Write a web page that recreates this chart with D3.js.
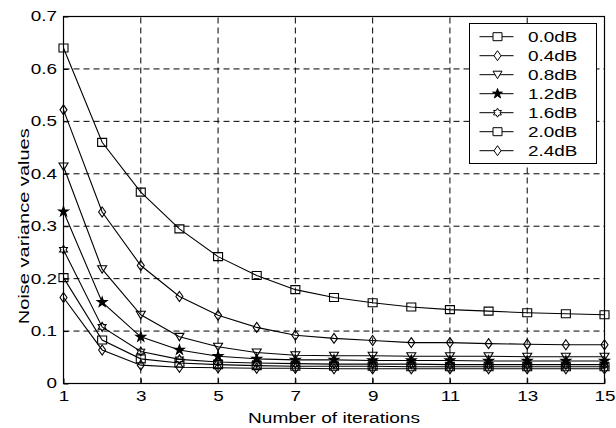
<!DOCTYPE html>
<html>
<head>
<meta charset="utf-8">
<script src="https://cdn.jsdelivr.net/npm/d3@7"></script>
<style>
  body { margin: 0; background: #fff; }
  text { font-family: Arial, "Liberation Sans", sans-serif; fill: #000; }
</style>
</head>
<body>
<script>
// Noise variance vs. number of iterations, one curve per SNR

const iterations = [1, 2, 3, 4, 5, 6, 7, 8, 9, 10, 11, 12, 13, 14, 15];
const snrLabels = ["0.0dB", "0.4dB", "0.8dB", "1.2dB", "1.6dB", "2.0dB", "2.4dB"];
const markers = ["square", "diamond", "triangle", "star", "hexagram", "square", "diamond"];

const snr00 = [0.640, 0.460, 0.365, 0.295, 0.242, 0.206, 0.179, 0.164, 0.154, 0.146, 0.141, 0.138, 0.135, 0.133, 0.131];
const snr04 = [0.522, 0.327, 0.225, 0.166, 0.130, 0.107, 0.092, 0.086, 0.082, 0.078, 0.078, 0.076, 0.075, 0.074, 0.074];
const snr08 = [0.414, 0.218, 0.131, 0.089, 0.070, 0.059, 0.054, 0.053, 0.053, 0.052, 0.052, 0.052, 0.051, 0.051, 0.051];
const snr12 = [0.328, 0.155, 0.089, 0.064, 0.052, 0.047, 0.045, 0.045, 0.044, 0.044, 0.044, 0.043, 0.043, 0.043, 0.043];
const snr16 = [0.255, 0.108, 0.061, 0.046, 0.041, 0.039, 0.038, 0.037, 0.037, 0.037, 0.036, 0.036, 0.036, 0.036, 0.036];
const snr20 = [0.202, 0.083, 0.047, 0.039, 0.036, 0.034, 0.033, 0.033, 0.033, 0.032, 0.032, 0.032, 0.032, 0.032, 0.032];
const snr24 = [0.164, 0.064, 0.035, 0.031, 0.030, 0.029, 0.029, 0.028, 0.028, 0.028, 0.028, 0.028, 0.028, 0.028, 0.028];

const xTicks = [1, 3, 5, 7, 9, 11, 13, 15];
const yTicks = [0, 0.1, 0.2, 0.3, 0.4, 0.5, 0.6, 0.7];

const allSeries = [snr00, snr04, snr08, snr12, snr16, snr20, snr24];

const W = 616, H = 428;
const margin = { top: 16.5, right: 11.5, bottom: 44.5, left: 63.5 };
const stretch = 1.35; // the original font is rendered wide

const svg = d3.select("body").append("svg")
  .attr("width", W)
  .attr("height", H);

const x = d3.scaleLinear().domain([1, 15]).range([margin.left, W - margin.right]);
const y = d3.scaleLinear().domain([0, 0.7]).range([H - margin.bottom, margin.top]);

// Dashed grid
const grid = svg.append("g")
  .attr("stroke", "#000")
  .attr("stroke-width", 1)
  .attr("stroke-dasharray", "6,4");
grid.selectAll("line.gx")
  .data(xTicks.slice(1, -1))
  .join("line")
  .attr("x1", d => x(d)).attr("x2", d => x(d))
  .attr("y1", y(0)).attr("y2", y(0.7));
grid.selectAll("line.gy")
  .data(yTicks.slice(1, -1))
  .join("line")
  .attr("x1", x(1)).attr("x2", x(15))
  .attr("y1", d => y(d)).attr("y2", d => y(d));

// Axes
const xAxis = svg.append("g")
  .attr("transform", `translate(0,${y(0)})`)
  .call(d3.axisBottom(x).tickValues(xTicks).tickFormat(d3.format("d"))
    .tickSizeInner(-5).tickSizeOuter(0).tickPadding(8));
const yAxis = svg.append("g")
  .attr("transform", `translate(${x(1)},0)`)
  .call(d3.axisLeft(y).tickValues(yTicks).tickFormat(d => d === 0 ? "0" : d3.format(".1f")(d))
    .tickSizeInner(-5).tickSizeOuter(0).tickPadding(4.8));

[xAxis, yAxis].forEach(a => {
  a.select(".domain").remove();
  a.selectAll("line").attr("stroke", "#000");
  a.selectAll("text")
    .attr("font-size", 14)
    .attr("font-family", null)
    .attr("transform", `scale(${stretch},1)`);
});

// Frame
svg.append("rect")
  .attr("x", x(1)).attr("y", y(0.7))
  .attr("width", x(15) - x(1)).attr("height", y(0) - y(0.7))
  .attr("fill", "none")
  .attr("stroke", "#000")
  .attr("stroke-width", 1.2);

// Axis labels
svg.append("text")
  .attr("x", (x(1) + x(15)) / 2)
  .attr("y", 422.5)
  .attr("text-anchor", "middle")
  .attr("font-size", 14)
  .attr("textLength", 172)
  .attr("lengthAdjust", "spacingAndGlyphs")
  .text("Number of iterations");

svg.append("text")
  .attr("transform", `translate(28.5,${y(0.3)}) rotate(-90)`)
  .attr("text-anchor", "middle")
  .attr("font-size", 14)
  .attr("textLength", 196)
  .attr("lengthAdjust", "spacingAndGlyphs")
  .text("Noise variance values");

// Marker shapes, centred on 0,0
function markerPath(type) {
  switch (type) {
    case "square":
      return "M-4.5,-4V4H4.5V-4Z";
    case "diamond":
      return "M0,-5L3.5,0L0,5L-3.5,0Z";
    case "triangle":
      return "M-4.5,-3.5H4.5L0,4Z";
    case "star":
      return d3.symbol(d3.symbolStar, 30)();
    case "hexagram": {
      const r = 4.5, r2 = 2.6;
      const pts = d3.range(12).map(i => {
        const a = -Math.PI / 2 + i * Math.PI / 6;
        const rr = i % 2 === 0 ? r : r2;
        return [rr * Math.cos(a), rr * Math.sin(a)];
      });
      return "M" + pts.join("L") + "Z";
    }
  }
}

const line = d3.line()
  .x((d, i) => x(iterations[i]))
  .y(d => y(d));

const curves = svg.append("g");
allSeries.forEach((vals, k) => {
  curves.append("path")
    .datum(vals)
    .attr("fill", "none")
    .attr("stroke", "#000")
    .attr("stroke-width", 1.1)
    .attr("d", line);
  curves.selectAll(null)
    .data(vals)
    .join("path")
    .attr("transform", (d, i) => `translate(${x(iterations[i])},${y(d)})`)
    .attr("d", markerPath(markers[k]))
    .attr("fill", markers[k] === "star" ? "#000" : "none")
    .attr("stroke", "#000")
    .attr("stroke-width", 1.1);
});

// Legend
const legend = svg.append("g").attr("transform", "translate(469.5,23.5)");
legend.append("rect")
  .attr("width", 127)
  .attr("height", 140)
  .attr("fill", "#fff")
  .attr("stroke", "#000")
  .attr("stroke-width", 1);
const rows = legend.selectAll("g.row")
  .data(snrLabels)
  .join("g")
  .attr("class", "row")
  .attr("transform", (d, i) => `translate(0,${13.2 + i * 19})`);
rows.append("line")
  .attr("x1", 10).attr("x2", 44)
  .attr("stroke", "#000");
rows.append("path")
  .attr("transform", "translate(28,0)")
  .attr("d", (d, i) => markerPath(markers[i]))
  .attr("fill", (d, i) => markers[i] === "star" ? "#000" : "#fff")
  .attr("stroke", "#000");
rows.append("text")
  .attr("transform", `translate(58.5,0) scale(${stretch},1)`)
  .attr("dy", "0.36em")
  .attr("font-size", 14)
  .text(d => d);
</script>
</body>
</html>
